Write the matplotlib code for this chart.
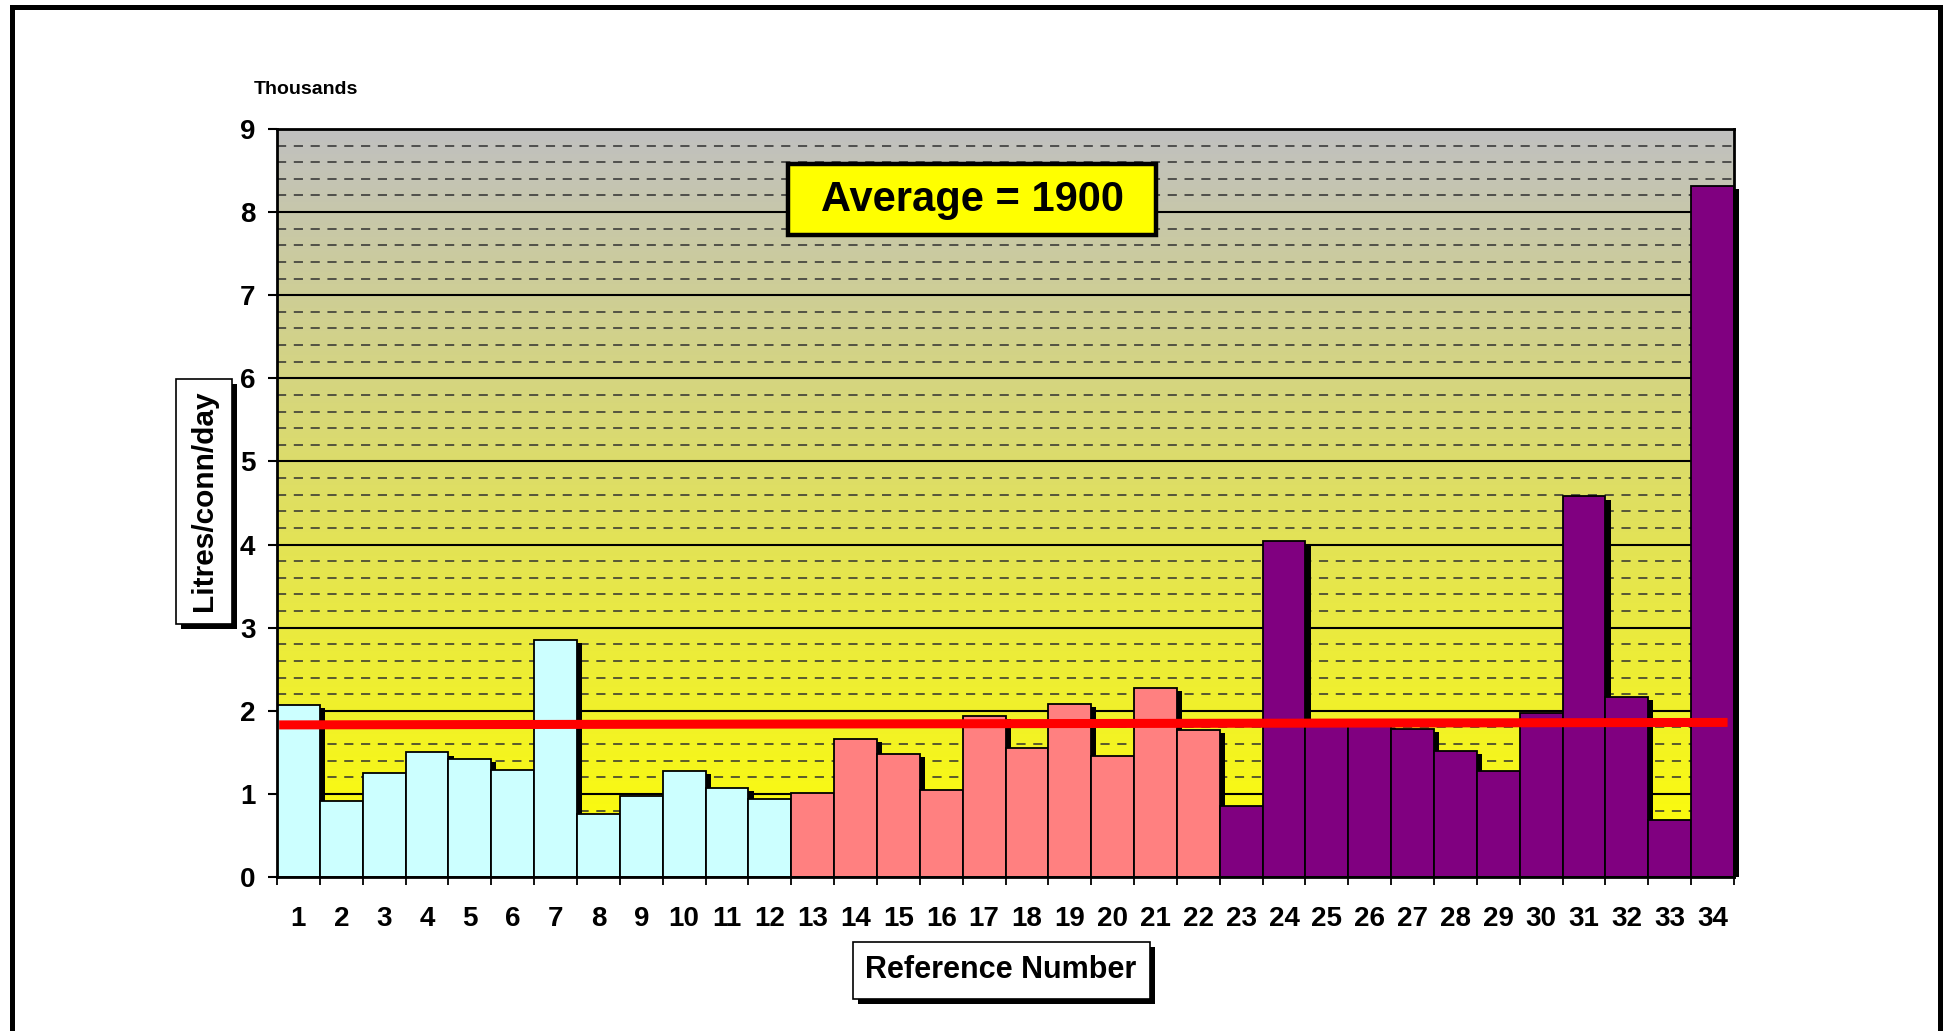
import numpy as np
import matplotlib
matplotlib.use('Agg')
import matplotlib.pyplot as plt
from matplotlib.patches import Rectangle
from matplotlib.ticker import MultipleLocator

plt.rcParams['font.family'] = ['Liberation Sans', 'DejaVu Sans']
plt.rcParams['font.weight'] = 'bold'

# Data (thousands of litres per connection per day)
ref_numbers = list(range(1, 35))
usage = [2.07, 0.92, 1.25, 1.50, 1.42, 1.29, 2.85, 0.76, 0.97, 1.28,
         1.07, 0.94, 1.01, 1.66, 1.48, 1.05, 1.94, 1.55, 2.08, 1.45,
         2.28, 1.77, 0.86, 4.04, 1.84, 1.83, 1.78, 1.52, 1.28, 1.97,
         4.58, 2.17, 0.68, 8.32]
groups = ['a'] * 12 + ['b'] * 10 + ['c'] * 12
group_colors = {'a': '#CCFFFF', 'b': '#FF8080', 'c': '#800080'}
avg_x = [0.55, 34.35]
avg_y = [1.83, 1.86]
avg_text = "Average = 1900"

W, H = 1944, 1031
fig = plt.figure(figsize=(W / 100, H / 100), dpi=100)
ax = fig.add_axes([277 / W, 1 - 877 / H, (1734 - 277) / W, (877 - 129) / H])

# gradient background: yellow at the bottom to grey at the top
t = np.linspace(0, 1, 256).reshape(-1, 1)
bottom_c = np.array([1.0, 1.0, 0.0])
top_c = np.array([0.753, 0.753, 0.753])
grad = bottom_c + (top_c - bottom_c) * t[..., None]
grad = np.repeat(grad, 2, axis=1)
ax.imshow(grad, extent=[0.5, 34.5, 0, 9], origin='lower', aspect='auto', zorder=0)

# gridlines
ax.set_axisbelow(True)
ax.yaxis.set_major_locator(MultipleLocator(1))
ax.yaxis.set_minor_locator(MultipleLocator(0.2))
ax.grid(which='major', axis='y', color='black', lw=1.5, zorder=0.5)
ax.grid(which='minor', axis='y', color='#303030', lw=1.1, dashes=(6, 5), zorder=0.5)

colors = [group_colors[g] for g in groups]
x = np.array(ref_numbers)
vals = np.array(usage)

# drop shadows, then bars
ax.bar(x + 0.12, vals - 0.04, width=1.0, color='black', zorder=2, clip_on=False)
ax.bar(x, vals, width=1.0, color=colors, edgecolor='black', linewidth=1.3, zorder=3)

# average line
ax.plot(avg_x, avg_y, color='#FF0000', lw=6.5, solid_capstyle='butt', zorder=4)

ax.set_xlim(0.5, 34.5)
ax.set_ylim(0, 9)
for s in ax.spines.values():
    s.set_linewidth(2)
    s.set_zorder(5)

ax.set_xticks(x)
ax.set_xticklabels([str(n) for n in ref_numbers])
ax.set_xticks(np.arange(0.5, 35.0, 1.0), minor=True)
ax.tick_params(axis='x', which='major', length=0, pad=21, labelsize=20)
ax.tick_params(axis='x', which='minor', length=6, width=1.3, direction='out')
ax.tick_params(axis='y', which='major', length=6.5, width=1.5, pad=9, labelsize=20)
ax.tick_params(axis='y', which='minor', length=0)

fig.text(254 / W, 1 - 89 / H, "Thousands", fontsize=14, fontweight='bold',
         ha='left', va='center')


def fig_box(x0, y0, x1, y1, face, lw, shadow=True, z=10):
    if shadow:
        fig.patches.append(Rectangle((x0 / W + 5 / W, 1 - (y1 + 5) / H), (x1 - x0) / W,
                                     (y1 - y0) / H, transform=fig.transFigure,
                                     facecolor='black', edgecolor='none', zorder=z))
    fig.patches.append(Rectangle((x0 / W, 1 - y1 / H), (x1 - x0) / W, (y1 - y0) / H,
                                 transform=fig.transFigure, facecolor=face,
                                 edgecolor='black', linewidth=lw, zorder=z + 1))


# axis title boxes
fig_box(176, 379, 232, 624, 'white', 1.2)
fig.text(204 / W, 1 - 501 / H, "Litres/conn/day", rotation=90, fontsize=21.5,
         fontweight='bold', ha='center', va='center', zorder=12)
fig_box(853, 942, 1150, 999, 'white', 1.2)
fig.text(1001 / W, 1 - 970 / H, "Reference Number", fontsize=22,
         fontweight='bold', ha='center', va='center', zorder=12)

# average label
fig_box(788, 164, 1156, 235, '#FFFF00', 3.2, shadow=False)
fig.text(972 / W, 1 - 200 / H, avg_text, fontsize=30, fontweight='bold',
         ha='center', va='center', zorder=12)

# outer frame
fig.patches.append(Rectangle((12 / W, -0.05), (1940 - 12) / W, 1.05 - 7 / H,
                             transform=fig.transFigure, fill=False,
                             edgecolor='black', linewidth=3.6, zorder=20))

fig.savefig("out.png", dpi=100)
